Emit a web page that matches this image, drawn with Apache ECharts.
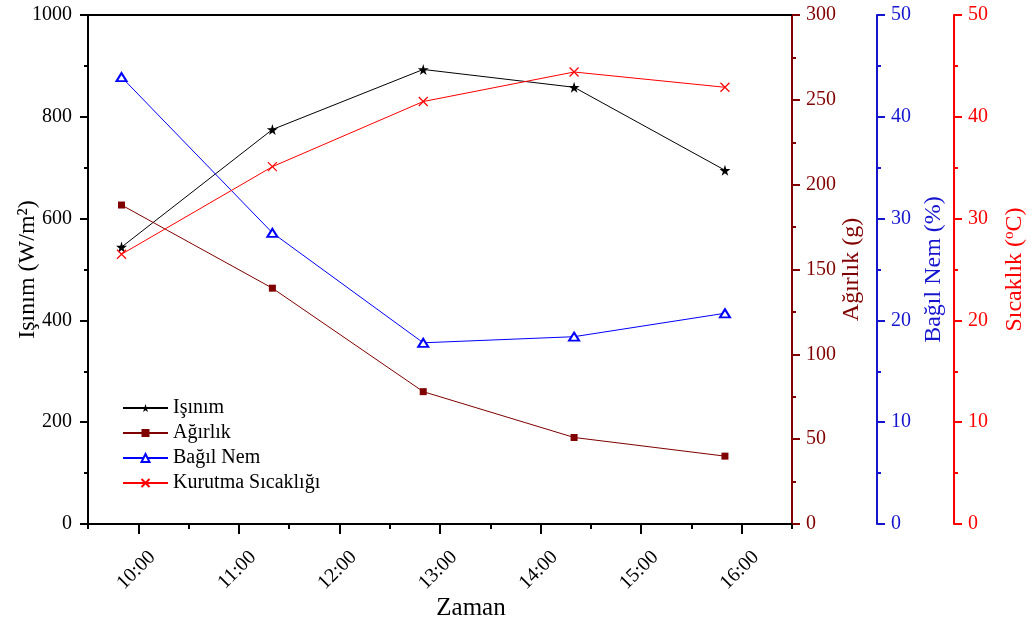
<!DOCTYPE html>
<html>
<head>
<meta charset="utf-8">
<script src="https://cdn.jsdelivr.net/npm/echarts@6/dist/echarts.min.js"></script>
<style>
html,body{margin:0;padding:0;background:#fff;}
#chart{width:1032px;height:626px;}
</style>
</head>
<body>
<div id="chart"></div>
<script>
// ---- data ----
var times = ['09:50', '11:20', '12:50', '14:20', '15:50'];
var isinim = [544, 775, 893, 858, 695];          // W/m2
var agirlik = [188, 139, 78, 51, 40];            // g
var bagilNem = [43.9, 28.6, 17.8, 18.4, 20.7];   // %
var sicaklik = [26.5, 35.1, 41.5, 44.4, 42.9];   // °C
var tickLabels = ['09:30','10:00','10:30','11:00','11:30','12:00','12:30','13:00','13:30','14:00','14:30','15:00','15:30','16:00','16:30'];
var seriesNames = ['Işınım', 'Ağırlık', 'Bağıl Nem', 'Kurutma Sıcaklığı'];

function toMin(t) { var p = t.split(':'); return (+p[0]) * 60 + (+p[1]); }
function pair(vals) { return times.map(function (t, i) { return [toMin(t), vals[i]]; }); }

var FONT = 'Liberation Serif';
var MAROON = '#800000', BLUE = '#0000ff', BLUEAX = '#1515d0', RED = '#ff0000';
var xMin = toMin(tickLabels[0]), xMax = toMin(tickLabels[tickLabels.length - 1]);
var STAR = 'path://M50,0 L61,35 L98,35 L68,57 L79,91 L50,70 L21,91 L32,57 L2,35 L39,35 Z';
var CROSS = 'path://M0,0 L10,10 M10,0 L0,10';

function yAx(opts) {
  var c = opts.color;
  return {
    type: 'value', position: opts.position, offset: opts.offset || 0,
    min: 0, max: opts.max, interval: opts.interval,
    name: opts.name, nameLocation: 'middle', nameGap: opts.nameGap, nameMoveOverlap: false,
    nameTextStyle: { fontFamily: FONT, fontSize: 24, color: c, rich: opts.rich },
    axisLine: { show: true, onZero: false, lineStyle: { color: c, width: 2 } },
    axisTick: { show: true, inside: false, length: 8, lineStyle: { color: c, width: 2 } },
    minorTick: { show: true, splitNumber: 2, length: 4, lineStyle: { color: c, width: 2 } },
    axisLabel: { fontFamily: FONT, fontSize: 20, color: c, margin: opts.margin || 14,
                 formatter: function (v) { return String(v); } },
    splitLine: { show: false }
  };
}

var chart = echarts.init(document.getElementById('chart'), null, { renderer: 'canvas' });
chart.setOption({
  backgroundColor: '#fff',
  animation: false,
  grid: { left: 88, right: 240, top: 15, bottom: 102, containLabel: false, outerBoundsMode: 'none' },
  legend: {
    orient: 'vertical', left: 117, top: 393,
    itemWidth: 45, itemHeight: 10, itemGap: 5,
    textStyle: { fontFamily: FONT, fontSize: 20, color: '#000' },
    data: seriesNames
  },
  xAxis: [
    { // value axis: carries data, minor (half hour) ticks
      type: 'value', min: xMin, max: xMax, interval: 30, position: 'bottom',
      axisLine: { show: true, onZero: false, lineStyle: { color: '#000', width: 2 } },
      axisTick: { show: true, length: 5, lineStyle: { color: '#000', width: 2 } },
      axisLabel: { show: false },
      splitLine: { show: false }
    },
    { // category overlay: hour ticks + labels
      type: 'category', data: tickLabels, boundaryGap: false, position: 'bottom',
      name: 'Zaman', nameLocation: 'middle', nameGap: 72, nameMoveOverlap: false,
      nameTextStyle: { fontFamily: FONT, fontSize: 25, color: '#000', padding: [0, 0, 0, 62] },
      axisLine: { show: false },
      axisTick: { show: true, length: 10, interval: function (i) { return i % 2 === 1; }, lineStyle: { color: '#000', width: 2 } },
      axisLabel: {
        show: true, interval: function (i) { return i % 2 === 1; }, rotate: 45,
        fontFamily: FONT, fontSize: 20, color: '#000', margin: 16, verticalAlign: 'top',
        padding: [10, 0, 0, 0]
      },
      splitLine: { show: false }
    },
    { // top frame line
      type: 'value', min: xMin, max: xMax, interval: 30, position: 'top',
      axisLine: { show: true, onZero: false, lineStyle: { color: '#000', width: 2 } },
      axisTick: { show: false }, axisLabel: { show: false }, splitLine: { show: false }
    }
  ],
  yAxis: [
    yAx({ position: 'left', max: 1000, interval: 200, color: '#000', name: 'Işınım (W/m²)', nameGap: 48, margin: 16 }),
    yAx({ position: 'right', max: 300, interval: 50, color: MAROON, name: 'Ağırlık (g)', nameGap: 48 }),
    yAx({ position: 'right', offset: 85, max: 50, interval: 10, color: BLUEAX, name: 'Bağıl Nem (%)', nameGap: 45 }),
    yAx({ position: 'right', offset: 162, max: 50, interval: 10, color: RED,
          name: '{n|Sıcaklık (}{s|o}{n|C)}', nameGap: 48,
          rich: { n: { fontFamily: FONT, fontSize: 24, color: RED },
                  s: { fontFamily: FONT, fontSize: 15, color: RED, padding: [0, 0, 10, 0] } } })
  ],
  series: [
    { name: seriesNames[0], type: 'line', xAxisIndex: 0, yAxisIndex: 0, data: pair(isinim),
      symbol: STAR, symbolSize: 11, lineStyle: { color: '#000', width: 1 },
      itemStyle: { color: '#000' } },
    { name: seriesNames[1], type: 'line', xAxisIndex: 0, yAxisIndex: 1, data: pair(agirlik),
      symbol: 'rect', symbolSize: 7, lineStyle: { color: MAROON, width: 1 },
      itemStyle: { color: MAROON } },
    { name: seriesNames[2], type: 'line', xAxisIndex: 0, yAxisIndex: 2, data: pair(bagilNem),
      symbol: 'emptyTriangle', symbolSize: [10, 8], lineStyle: { color: BLUE, width: 1 },
      itemStyle: { color: BLUE, borderColor: BLUE, borderWidth: 1.2 } },
    { name: seriesNames[3], type: 'line', xAxisIndex: 0, yAxisIndex: 3, data: pair(sicaklik),
      symbol: CROSS, symbolSize: 9, lineStyle: { color: RED, width: 1 },
      itemStyle: { color: 'none', borderColor: RED, borderWidth: 1.2 } }
  ]
});
</script>
</body>
</html>
